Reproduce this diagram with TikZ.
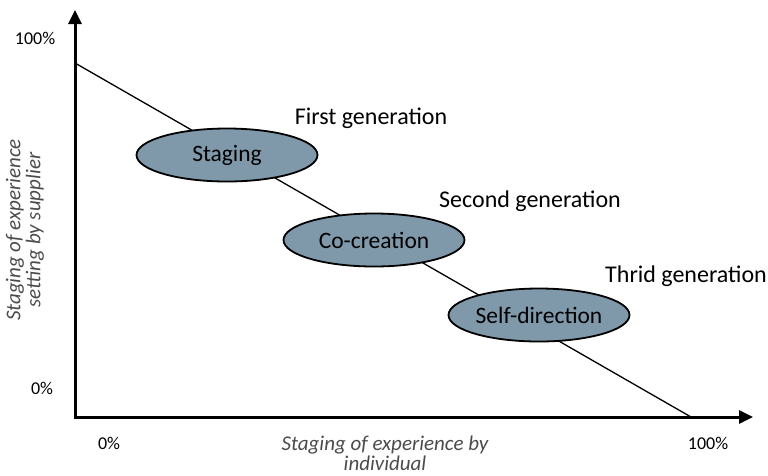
\documentclass[tikz,border=0pt]{standalone}
\usepackage{fontspec}
\setmainfont{Carlito}
\usetikzlibrary{arrows.meta,shapes.geometric}
\definecolor{ellfill}{RGB}{127,153,171}
\definecolor{axtext}{RGB}{75,75,75}
\begin{document}
\begin{tikzpicture}[x=1pt,y=-1pt,
  axisline/.style={line width=3pt,-{Triangle[length=14pt,width=13pt]}},
  stage/.style={ellipse,draw=black,line width=1.8pt,fill=ellfill,minimum width=181pt,minimum height=53pt,inner sep=0pt,font=\fontsize{23.5}{27}\selectfont},
  gen/.style={font=\fontsize{24}{28}\selectfont,inner sep=0pt},
  pct/.style={font=\fontsize{18}{21}\selectfont,inner sep=0pt},
  axlabel/.style={font=\fontsize{21}{20}\selectfont\itshape,text=axtext,inner sep=0pt,align=center}]
\useasboundingbox (0,0) rectangle (768,475);
\coordinate (origin) at (75,417);
\coordinate (ytip) at (75,10);
\coordinate (xtip) at (753,417);
\coordinate (dstart) at (75,63);
\coordinate (dend) at (691,417);
\draw[line width=1.3pt] (dstart) -- (dend);
\draw[axisline] ([yshift=1.5pt]origin) -- (ytip);
\draw[axisline] ([xshift=-1.5pt]origin) -- (xtip);
\node[stage] (staging) at (227,155) {Staging};
\node[stage] (cocreation) at (374,240) {Co-creation};
\node[stage] (selfdir) at (539,315) {Self-direction};
\node[gen] (g1) at (371,118) {First generation};
\node[gen] (g2) at (530,201) {Second generation};
\node[gen] (g3) at (686,276) {Thrid generation};
\node[pct] (y100) at (35,38) {100\%};
\node[pct] (y0) at (42,388) {0\%};
\node[pct] (x0) at (109,443) {0\%};
\node[pct] (x100) at (708,443) {100\%};
\node[axlabel] (xlab) at (385,453) {Staging of experience by\\individual};
\node[axlabel,rotate=90] (ylab) at (25,230) {Staging of experience\\setting by supplier};
\end{tikzpicture}
\end{document}
